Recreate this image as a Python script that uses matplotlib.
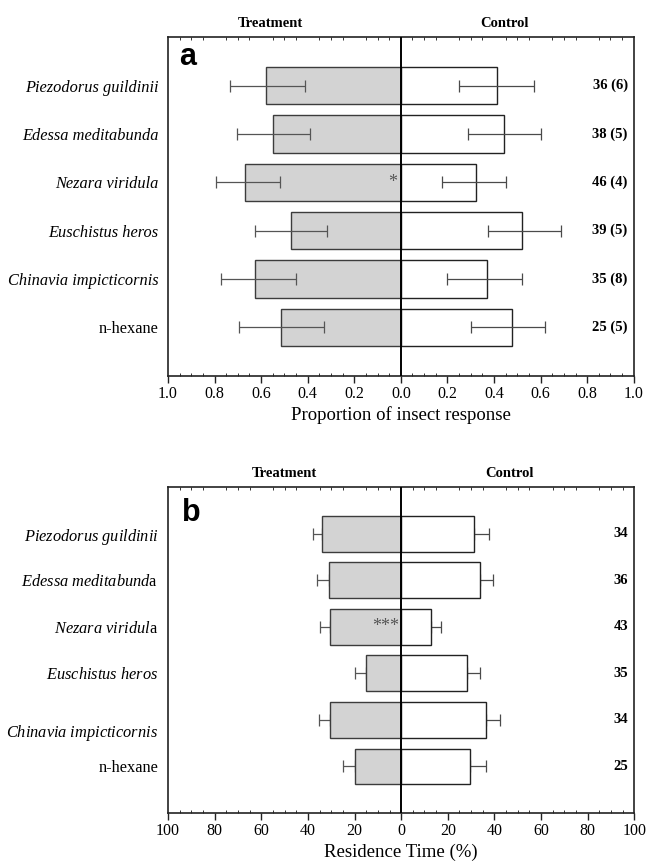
import matplotlib
matplotlib.use("Agg")
import matplotlib.pyplot as plt
from matplotlib.ticker import MultipleLocator, FuncFormatter
from matplotlib.transforms import ScaledTranslation

plt.rcParams['font.family'] = ['Liberation Serif', 'DejaVu Serif']
plt.rcParams['mathtext.fontset'] = 'custom'
plt.rcParams['mathtext.it'] = 'Liberation Serif:italic'
plt.rcParams['mathtext.rm'] = 'Liberation Serif'

# ---------------- data (top to bottom) ----------------
species = ['Piezodorus guildinii', 'Edessa meditabunda', 'Nezara viridula',
           'Euschistus heros', 'Chinavia impicticornis', 'n-hexane']
italic = [True, True, True, True, True, False]

labels_b = [r'$\mathit{Piezodorus\ guildinii}$', r'$\mathit{Edessa\ meditabund}$a',
            r'$\mathit{Nezara\ viridul}$a', r'$\mathit{Euschistus\ heros}$',
            r'$\mathit{Chinavia\ impicticornis}$', 'n-hexane']

# panel a: proportion of insect response
a_treat = [0.579, 0.549, 0.669, 0.471, 0.625, 0.513]
a_treat_lo = [0.411, 0.388, 0.519, 0.319, 0.451, 0.331]
a_treat_hi = [0.735, 0.703, 0.795, 0.625, 0.772, 0.694]
a_ctrl = [0.412, 0.442, 0.322, 0.520, 0.368, 0.478]
a_ctrl_lo = [0.250, 0.288, 0.177, 0.373, 0.200, 0.301]
a_ctrl_hi = [0.572, 0.600, 0.450, 0.687, 0.520, 0.618]
a_n = ['36 (6)', '38 (5)', '46 (4)', '39 (5)', '35 (8)', '25 (5)']
a_ticks = [-1.0, -0.8, -0.6, -0.4, -0.2, 0.0, 0.2, 0.4, 0.6, 0.8, 1.0]

# panel b: residence time (%)
b_treat = [33.8, 31.1, 30.4, 15.0, 30.4, 19.8]
b_treat_err = [4.2, 5.0, 4.4, 4.8, 4.8, 5.1]
b_ctrl = [31.1, 33.6, 12.9, 28.1, 36.4, 29.4]
b_ctrl_err = [6.5, 5.8, 4.1, 5.7, 6.0, 6.9]
b_n = ['34', '36', '43', '35', '34', '25']
b_ticks = [-100, -80, -60, -40, -20, 0, 20, 40, 60, 80, 100]

GRAY = '#d3d3d3'
EDGE = '#3c3c3c'

fig = plt.figure(figsize=(6.46, 8.66), dpi=100)
ax_a = fig.add_axes([0.260, 0.566, 0.721, 0.391])
ax_b = fig.add_axes([0.260, 0.0612, 0.722, 0.3764])

n = len(species)
ypos = [n - 1 - i for i in range(n)]


def style_axes(ax, lim, ticks, minor, xlabel, labels, fmt):
    ax.set_xlim(-lim, lim)
    ax.set_ylim(-1, n)
    ax.set_xticks(ticks)
    ax.xaxis.set_major_formatter(FuncFormatter(fmt))
    ax.xaxis.set_minor_locator(MultipleLocator(minor))
    ax.tick_params(axis='x', which='major', direction='out', length=5,
                   width=1.0, labelsize=11.5, pad=2.5, top=False, color='#222')
    ax.tick_params(axis='x', which='minor', direction='in', length=2.5,
                   width=0.7, top=True, bottom=True, color='#333')
    ax.set_yticks(ypos)
    ax.set_yticklabels(labels, fontsize=11.8)
    ax.tick_params(axis='y', length=0, pad=7)
    for s in ax.spines.values():
        s.set_linewidth(1.2)
        s.set_color('#222')
    ax.axvline(0, color='black', lw=1.4, zorder=5)
    ax.set_xlabel(xlabel, fontsize=13.5, labelpad=3)


# ---------------- panel a ----------------
ax = ax_a
ax.barh(ypos, [-v for v in a_treat], height=0.77, color=GRAY, edgecolor=EDGE,
        linewidth=1.0, zorder=2)
ax.barh(ypos, a_ctrl, height=0.77, color='white', edgecolor='#222',
        linewidth=1.0, zorder=2)
t_err = [[a_treat_hi[i] - a_treat[i] for i in range(n)],
         [a_treat[i] - a_treat_lo[i] for i in range(n)]]
c_err = [[a_ctrl[i] - a_ctrl_lo[i] for i in range(n)],
         [a_ctrl_hi[i] - a_ctrl[i] for i in range(n)]]
ax.errorbar([-v for v in a_treat], ypos, xerr=t_err, fmt='none',
            ecolor='#555555', elinewidth=0.9, capsize=4.3, capthick=0.9, zorder=3)
ax.errorbar(a_ctrl, ypos, xerr=c_err, fmt='none',
            ecolor='#4a4a4a', elinewidth=0.9, capsize=4.3, capthick=0.9, zorder=3)
style_axes(ax, 1.0, a_ticks, 0.05, 'Proportion of insect response',
           species, lambda v, p: f'{abs(v):.1f}')
for lbl, it in zip(ax.get_yticklabels(), italic):
    lbl.set_fontstyle('italic' if it else 'normal')
for y, t in zip(ypos, a_n):
    ax.text(0.987, y, t, transform=ax.get_yaxis_transform(), ha='right',
            va='center', fontsize=10.5, fontweight='bold')
ax.text(-0.015, ypos[2], '*', ha='right', va='center', fontsize=13,
        color='#555555', zorder=6)
ax.text(0.024, 0.917, 'a', transform=ax.transAxes, fontsize=22,
        fontweight='bold', family='Liberation Sans', va='baseline')
ax.text(0.219, 1.04, 'Treatment', transform=ax.transAxes, ha='center',
        va='center', fontsize=10.5, fontweight='bold')
ax.text(0.723, 1.04, 'Control', transform=ax.transAxes, ha='center',
        va='center', fontsize=10.5, fontweight='bold')

# ---------------- panel b ----------------
ax = ax_b
ax.barh(ypos, [-v for v in b_treat], height=0.77, color=GRAY, edgecolor=EDGE,
        linewidth=1.0, zorder=2)
ax.barh(ypos, b_ctrl, height=0.77, color='white', edgecolor='#222',
        linewidth=1.0, zorder=2)
zeros = [0] * n
ax.errorbar([-v for v in b_treat], ypos, xerr=[b_treat_err, zeros], fmt='none',
            ecolor='#555555', elinewidth=0.9, capsize=4.3, capthick=0.9, zorder=1)
ax.errorbar(b_ctrl, ypos, xerr=[zeros, b_ctrl_err], fmt='none',
            ecolor='#4a4a4a', elinewidth=0.9, capsize=4.3, capthick=0.9, zorder=1)
style_axes(ax, 100, b_ticks, 5, 'Residence Time (%)', labels_b,
           lambda v, p: f'{abs(v):.0f}')
# the Chinavia label sits a little below its bar in the original
lbls = ax.get_yticklabels()
lbls[4].set_transform(lbls[4].get_transform() +
                      ScaledTranslation(0, -7 / 72, fig.dpi_scale_trans))
for y, t in zip(ypos, b_n):
    ax.text(0.987, y, t, transform=ax.get_yaxis_transform(), ha='right',
            va='center', fontsize=10.5, fontweight='bold')
ax.text(-0.8, ypos[2], '***', ha='right', va='center', fontsize=13,
        color='#555555', zorder=6)
ax.text(0.03, 0.897, 'b', transform=ax.transAxes, fontsize=22,
        fontweight='bold', family='Liberation Sans', va='baseline')
ax.text(0.25, 1.042, 'Treatment', transform=ax.transAxes, ha='center',
        va='center', fontsize=10.5, fontweight='bold')
ax.text(0.732, 1.042, 'Control', transform=ax.transAxes, ha='center',
        va='center', fontsize=10.5, fontweight='bold')

fig.savefig('out.png', dpi=100)
